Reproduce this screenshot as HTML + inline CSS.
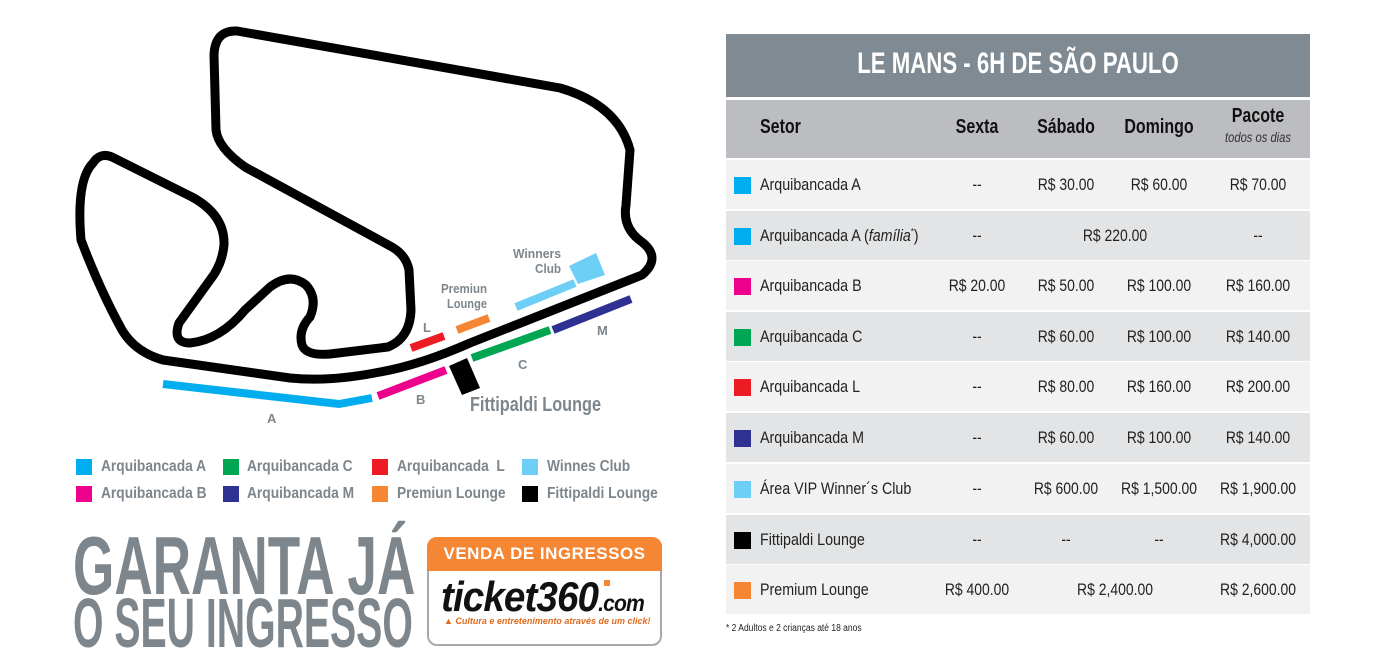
<!DOCTYPE html>
<html><head><meta charset="utf-8"><style>
*{margin:0;padding:0;box-sizing:border-box}
body{width:1398px;height:664px;background:#fff;position:relative;overflow:hidden;font-family:"Liberation Sans",sans-serif}
.a{position:absolute;white-space:nowrap}
.lg{font-size:16px;font-weight:bold;color:#7d868c;transform:scaleX(0.86);transform-origin:0 0}
.sq{position:absolute;width:16px;height:16px}
.row{position:absolute;left:726px;width:584px;height:49px;font-size:17px;color:#222}
.row span{position:absolute;top:15px;white-space:nowrap;transform:scaleX(0.84);transform-origin:0 0}
.row span.c{transform:translateX(-50%) scaleX(0.82);transform-origin:50% 0}
.row span.b{top:17px;width:17px;height:17px;left:8px;transform:none}
.c{transform:translateX(-50%) scaleX(0.8);transform-origin:50% 0}
</style></head><body>
<svg class="a" style="left:0;top:0" width="700" height="440">
<path d="M 237,31 L 560,88 Q 618,105 630,150 L 626,205 Q 622,228 642,242 Q 662,258 642,275 L 470,343 Q 420,365 380,372 Q 330,382 290,378 L 163,360 Q 135,352 122,330 Q 100,290 81,240 Q 76,180 93,163 Q 100,152 112,157 L 192,197 Q 225,215 224,245 Q 222,265 210,280 L 179,323 Q 172,343 190,343 Q 220,340 245,310 L 270,287 Q 290,272 306,285 Q 318,298 310,317 Q 298,330 302,345 Q 306,356 330,354 L 388,347 Q 410,338 411,310 L 409,270 Q 406,255 392,247 L 245,167 Q 218,148 216,130 L 214,55 Q 215,30 237,31 Z" fill="none" stroke="#000" stroke-width="9" stroke-linejoin="round"/>
<polyline points="163,384 339,404 372,398" fill="none" stroke="#00aeef" stroke-width="8"/>
<line x1="378" y1="396" x2="446" y2="370" stroke="#ec008c" stroke-width="8"/>
<polygon points="449,366 467,358 480,388 462,395" fill="#000"/>
<line x1="472" y1="358" x2="550" y2="330" stroke="#00a651" stroke-width="8"/>
<line x1="553" y1="330" x2="631" y2="299" stroke="#2e3192" stroke-width="8"/>
<line x1="411" y1="348" x2="444" y2="336" stroke="#ed1c24" stroke-width="8"/>
<line x1="457" y1="330" x2="489" y2="318" stroke="#f58634" stroke-width="8"/>
<line x1="516" y1="307" x2="575" y2="283" stroke="#6dcff6" stroke-width="8"/>
<polygon points="569,266 596,253 605,275 578,284" fill="#6dcff6"/>
<g font-family="Liberation Sans,sans-serif" font-weight="bold" fill="#7d868c" font-size="13">
<text x="513" y="258" textLength="48" lengthAdjust="spacingAndGlyphs">Winners</text><text x="535" y="273" textLength="26" lengthAdjust="spacingAndGlyphs">Club</text>
<text x="441" y="293" textLength="46" lengthAdjust="spacingAndGlyphs">Premiun</text><text x="447" y="308" textLength="40" lengthAdjust="spacingAndGlyphs">Lounge</text>
<text x="423" y="332">L</text><text x="518" y="369">C</text><text x="597" y="335">M</text>
<text x="416" y="404">B</text><text x="267" y="423">A</text>
<text x="470" y="411" font-size="20" textLength="131" lengthAdjust="spacingAndGlyphs">Fittipaldi Lounge</text>
</g></svg>

<div class="sq" style="left:76px;top:459px;background:#00aeef"></div><div class="a lg" style="left:101px;top:458px">Arquibancada A</div>
<div class="sq" style="left:223px;top:459px;background:#00a651"></div><div class="a lg" style="left:247px;top:458px">Arquibancada C</div>
<div class="sq" style="left:372px;top:459px;background:#ed1c24"></div><div class="a lg" style="left:397px;top:458px">Arquibancada&nbsp; L</div>
<div class="sq" style="left:522px;top:459px;background:#6dcff6"></div><div class="a lg" style="left:547px;top:458px">Winnes Club</div>
<div class="sq" style="left:76px;top:486px;background:#ec008c"></div><div class="a lg" style="left:101px;top:485px">Arquibancada B</div>
<div class="sq" style="left:223px;top:486px;background:#2e3192"></div><div class="a lg" style="left:247px;top:485px">Arquibancada M</div>
<div class="sq" style="left:372px;top:486px;background:#f58634"></div><div class="a lg" style="left:397px;top:485px">Premiun Lounge</div>
<div class="sq" style="left:522px;top:486px;background:#000"></div><div class="a lg" style="left:547px;top:485px">Fittipaldi Lounge</div>

<div class="a" style="left:73px;top:524px;font-size:83px;font-weight:bold;color:#7d868c;line-height:83px;transform:scaleX(0.64);transform-origin:0 0">GARANTA JÁ</div>
<div class="a" style="left:73px;top:588px;font-size:70px;font-weight:bold;color:#7d868c;line-height:70px;transform:scaleX(0.56);transform-origin:0 0">O SEU INGRESSO</div>

<div class="a" style="left:427px;top:537px;width:235px;height:109px;border:2px solid #a7a9ac;border-radius:10px;background:#fff"></div>
<div class="a" style="left:427px;top:537px;width:235px;height:34px;background:#f58634;border-radius:10px 10px 0 0;color:#fff;font-size:17px;font-weight:bold;text-align:center;line-height:34px;letter-spacing:0.5px">VENDA DE INGRESSOS</div>
<div class="a" style="left:441px;top:574px;font-style:italic;font-weight:bold;font-size:42px;color:#111;line-height:46px;letter-spacing:-1px;transform:scaleX(0.92);transform-origin:0 0">ticket360<span style="font-size:23px">.com</span></div>
<div class="a" style="left:604px;top:580px;width:6px;height:6px;background:#f58634"></div>
<div class="a" style="left:444px;top:616px;font-style:italic;font-weight:bold;font-size:9px;color:#e06a1c">▲ Cultura e entretenimento através de um click!</div>

<div class="a" style="left:726px;top:34px;width:584px;height:63px;background:#7f8a92"></div>
<div class="a c" style="left:1018px;top:47px;color:#fff;font-size:30px;font-weight:bold;transform:translateX(-50%) scaleX(0.74)">LE MANS - 6H DE SÃO PAULO</div>
<div class="a" style="left:726px;top:100px;width:584px;height:58px;background:#bcbdc0;font-weight:bold;font-size:20px;color:#111">
<span class="a" style="left:34px;top:16px;transform:scaleX(0.8);transform-origin:0 0">Setor</span>
<span class="a c" style="left:251px;top:16px">Sexta</span>
<span class="a c" style="left:340px;top:16px">Sábado</span>
<span class="a c" style="left:433px;top:16px">Domingo</span>
<span class="a c" style="left:532px;top:5px">Pacote</span>
<span class="a c" style="left:532px;top:29px;font-size:14px;font-weight:normal;font-style:italic;color:#333">todos os dias</span>
</div>

<div class="row" style="top:160px;background:#f2f2f3"><span class="b" style="background:#00aeef"></span><span style="left:34px">Arquibancada A</span><span class="c" style="left:251px">--</span><span class="c" style="left:340px">R$ 30.00</span><span class="c" style="left:433px">R$ 60.00</span><span class="c" style="left:532px">R$ 70.00</span></div>
<div class="row" style="top:211px;background:#e3e4e5"><span class="b" style="background:#00aeef"></span><span style="left:34px">Arquibancada A (<i>família</i><sup style="font-size:9px">*</sup>)</span><span class="c" style="left:251px">--</span><span class="c" style="left:389px">R$ 220.00</span><span class="c" style="left:532px">--</span></div>
<div class="row" style="top:261px;background:#f2f2f3"><span class="b" style="background:#ec008c"></span><span style="left:34px">Arquibancada B</span><span class="c" style="left:251px">R$ 20.00</span><span class="c" style="left:340px">R$ 50.00</span><span class="c" style="left:433px">R$ 100.00</span><span class="c" style="left:532px">R$ 160.00</span></div>
<div class="row" style="top:312px;background:#e3e4e5"><span class="b" style="background:#00a651"></span><span style="left:34px">Arquibancada C</span><span class="c" style="left:251px">--</span><span class="c" style="left:340px">R$ 60.00</span><span class="c" style="left:433px">R$ 100.00</span><span class="c" style="left:532px">R$ 140.00</span></div>
<div class="row" style="top:362px;background:#f2f2f3"><span class="b" style="background:#ed1c24"></span><span style="left:34px">Arquibancada L</span><span class="c" style="left:251px">--</span><span class="c" style="left:340px">R$ 80.00</span><span class="c" style="left:433px">R$ 160.00</span><span class="c" style="left:532px">R$ 200.00</span></div>
<div class="row" style="top:413px;background:#e3e4e5"><span class="b" style="background:#2e3192"></span><span style="left:34px">Arquibancada M</span><span class="c" style="left:251px">--</span><span class="c" style="left:340px">R$ 60.00</span><span class="c" style="left:433px">R$ 100.00</span><span class="c" style="left:532px">R$ 140.00</span></div>
<div class="row" style="top:464px;background:#f2f2f3"><span class="b" style="background:#6dcff6"></span><span style="left:34px">Área VIP Winner´s Club</span><span class="c" style="left:251px">--</span><span class="c" style="left:340px">R$ 600.00</span><span class="c" style="left:433px">R$ 1,500.00</span><span class="c" style="left:532px">R$ 1,900.00</span></div>
<div class="row" style="top:515px;background:#e3e4e5"><span class="b" style="background:#000"></span><span style="left:34px">Fittipaldi Lounge</span><span class="c" style="left:251px">--</span><span class="c" style="left:340px">--</span><span class="c" style="left:433px">--</span><span class="c" style="left:532px">R$ 4,000.00</span></div>
<div class="row" style="top:565px;background:#f2f2f3"><span class="b" style="background:#f58634"></span><span style="left:34px">Premium Lounge</span><span class="c" style="left:251px">R$ 400.00</span><span class="c" style="left:389px">R$ 2,400.00</span><span class="c" style="left:532px">R$ 2,600.00</span></div>
<div class="a" style="left:726px;top:623px;font-size:10px;color:#222;transform:scaleX(0.85);transform-origin:0 0">* 2 Adultos e 2 crianças até 18 anos</div>
</body></html>
